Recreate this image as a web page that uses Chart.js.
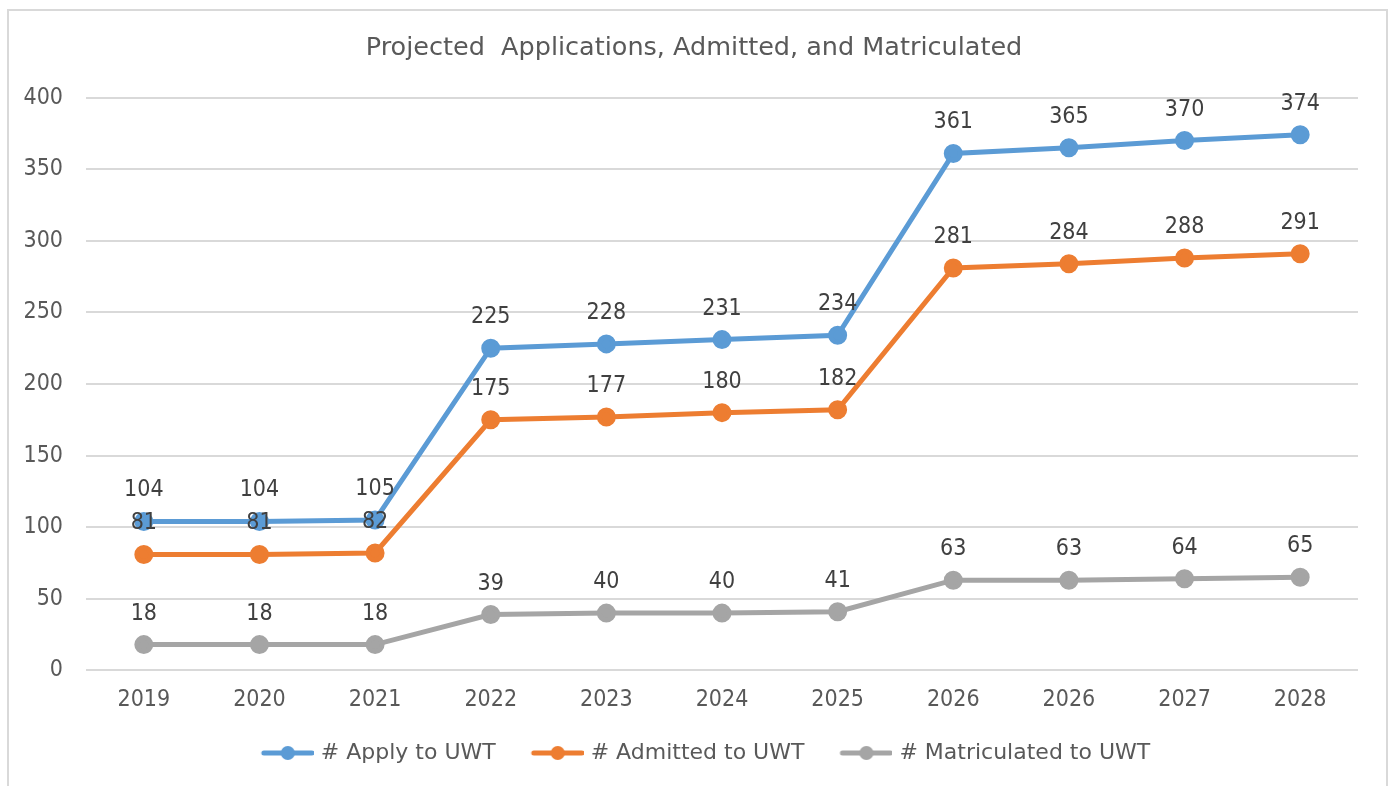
<!DOCTYPE html>
<html lang="en">
<head>
    <meta charset="UTF-8">
    <title>Projected Applications, Admitted, and Matriculated</title>
    <script src="https://cdn.jsdelivr.net/npm/chart.js"></script>
    <style>
        body { margin: 0; padding: 0; overflow: hidden; background: white; }
        #frame { position: absolute; left: 7px; top: 9px; width: 1377px; height: 800px; border: 2px solid #d9d9d9; }
        #wrap { position: absolute; left: 0; top: 0; width: 1388px; height: 786px; }
    </style>
</head>
<body>
    <div id="frame"></div>
    <div id="wrap"><canvas id="chart"></canvas></div>

    <script>
        const years = ['2019', '2020', '2021', '2022', '2023', '2024', '2025', '2026', '2026', '2027', '2028'];
        const applied = [104, 104, 105, 225, 228, 231, 234, 361, 365, 370, 374];
        const admitted = [81, 81, 82, 175, 177, 180, 182, 281, 284, 288, 291];
        const matriculated = [18, 18, 18, 39, 40, 40, 41, 63, 63, 64, 65];

        const TEXT_FONT = '"DejaVu Sans", sans-serif';
        const NUM_FONT = '"DejaVu Sans Condensed", "DejaVu Sans", sans-serif';

        // line-with-dot marker for the legend (left part left blank as spacing)
        function marker(color) {
            const c = document.createElement('canvas');
            c.width = 80; c.height = 16;
            const g = c.getContext('2d');
            g.strokeStyle = color; g.lineWidth = 5; g.lineCap = 'round';
            g.beginPath(); g.moveTo(30, 8); g.lineTo(78, 8); g.stroke();
            g.fillStyle = color;
            g.beginPath(); g.arc(54, 8, 7, 0, Math.PI * 2); g.fill();
            return c;
        }

        // value labels above each point
        const valueLabels = {
            id: 'valueLabels',
            afterDatasetsDraw(chart) {
                const ctx = chart.ctx;
                ctx.save();
                ctx.font = '23px ' + NUM_FONT;
                ctx.fillStyle = '#404040';
                ctx.textAlign = 'center';
                ctx.textBaseline = 'middle';
                chart.data.datasets.forEach((ds, i) => {
                    chart.getDatasetMeta(i).data.forEach((pt, j) => {
                        ctx.fillText(ds.data[j], pt.x, pt.y - 31);
                    });
                });
                ctx.restore();
            }
        };

        function series(label, data, color) {
            return {
                label: label,
                data: data,
                borderColor: color,
                backgroundColor: color,
                borderWidth: 5,
                pointRadius: 7,
                pointHoverRadius: 7,
                pointStyle: 'circle',
                tension: 0,
                yAxisID: 'y'
            };
        }

        const ctx = document.getElementById('chart').getContext('2d');
        new Chart(ctx, {
            type: 'line',
            data: {
                labels: years,
                datasets: [
                    series('# Apply to UWT', applied, '#5b9bd5'),
                    series('# Admitted to UWT', admitted, '#ed7d31'),
                    series('# Matriculated to UWT', matriculated, '#a5a5a5')
                ]
            },
            options: {
                responsive: true,
                maintainAspectRatio: false,
                animation: false,
                layout: { padding: { left: 0, right: 0, top: 0, bottom: 12 } },
                plugins: {
                    title: {
                        display: true,
                        text: 'Projected  Applications, Admitted, and Matriculated',
                        color: '#595959',
                        font: { family: TEXT_FONT, size: 25.5, weight: 'normal' },
                        padding: { top: 33, bottom: 34 }
                    },
                    legend: {
                        position: 'bottom',
                        labels: {
                            usePointStyle: true,
                            pointStyleWidth: 72,
                            color: '#595959',
                            font: { family: TEXT_FONT, size: 22 },
                            padding: 12,
                            boxHeight: 16,
                            generateLabels(chart) {
                                const items = Chart.defaults.plugins.legend.labels.generateLabels(chart);
                                items.forEach(it => {
                                    it.pointStyle = marker(chart.data.datasets[it.datasetIndex].borderColor);
                                });
                                return items;
                            }
                        }
                    },
                    tooltip: { enabled: false }
                },
                scales: {
                    x: {
                        offset: true,
                        grid: { display: false, drawTicks: false },
                        border: { display: false },
                        ticks: { color: '#595959', font: { family: NUM_FONT, size: 23 }, padding: 16, maxRotation: 0, autoSkip: false }
                    },
                    y: {
                        min: 0,
                        max: 400,
                        afterFit: s => { s.width = 86; },
                        grid: { color: '#d9d9d9', lineWidth: 2, drawTicks: false },
                        border: { display: false },
                        ticks: { stepSize: 50, color: '#595959', font: { family: NUM_FONT, size: 23 }, padding: 23 }
                    },
                    // empty right-hand axis, only to leave space right of the plot
                    yRight: {
                        position: 'right',
                        min: 0,
                        max: 400,
                        afterFit: s => { s.width = 30; },
                        grid: { display: false, drawTicks: false },
                        border: { display: false },
                        ticks: { display: false }
                    }
                }
            },
            plugins: [valueLabels]
        });
    </script>
</body>
</html>
